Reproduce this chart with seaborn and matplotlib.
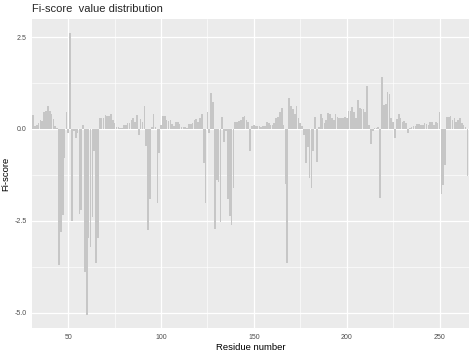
import numpy as np
import pandas as pd
import matplotlib.pyplot as plt
import seaborn as sns
from matplotlib.ticker import MultipleLocator

# residue numbers 31..265 and the Fi-score
residues = list(range(31, 266))

scores_31_66 = [0.38, 0.09, 0.10, 0.15, 0.25, 0.22, 0.45, 0.50, 0.62, 0.50,
                0.40, 0.28, 0.08, 0.02, -3.70, -2.80, -2.35, -0.80, 0.45, -0.10,
                2.62, -2.50, -0.05, -0.25, -0.10, -2.30, -2.20, 0.10, -3.90, -5.05,
                -2.95, -3.20, -2.40, -0.60, -3.65, -2.95]
scores_67_100 = [0.30, 0.30, 0.30, 0.38, 0.35, 0.35, 0.40, 0.24, 0.15, 0.05,
                 0.05, 0.03, 0.03, 0.12, 0.12, 0.15, 0.15, 0.24, 0.30, 0.18,
                 0.38, -0.15, 0.27, 0.20, 0.62, -0.45, -2.75, -1.90, 0.05, 0.40,
                 0.05, -2.00, -0.65, 0.10]
scores_101_140 = [0.36, 0.36, 0.25, 0.22, 0.25, 0.13, 0.07, 0.19, 0.19, 0.13,
                  0.05, 0.05, 0.05, 0.04, 0.13, 0.13, 0.15, 0.24, 0.28, 0.18,
                  0.30, 0.40, -0.93, -2.00, 0.45, -0.10, 0.99, 0.74, -2.73, -1.39,
                  -1.45, -2.52, 0.33, -0.35, -0.05, -1.90, -2.36, -2.60, -1.60, 0.20]
scores_141_180 = [0.20, 0.22, 0.25, 0.33, 0.35, 0.25, 0.20, -0.59, 0.08, 0.10,
                  0.07, 0.08, 0.07, 0.05, 0.07, 0.08, 0.20, 0.15, 0.10, 0.10,
                  0.15, 0.30, 0.33, 0.45, 0.56, 0.10, -1.50, -3.65, 0.83, 0.62,
                  0.55, 0.40, 0.62, 0.30, 0.15, 0.08, -0.15, -0.93, -0.50, -1.34]
scores_181_220 = [-1.60, -0.60, 0.33, -0.90, 0.05, 0.40, 0.30, 0.15, 0.24, 0.43,
                  0.40, 0.30, 0.25, 0.40, 0.33, 0.30, 0.30, 0.30, 0.32, 0.30,
                  0.50, 0.50, 0.60, 0.45, 0.30, 0.79, 0.56, 0.54, 0.53, 0.45,
                  1.17, 0.10, -0.40, -0.05, 0.02, 0.02, 0.05, -1.87, 1.40, 0.65]
scores_221_265 = [0.68, 1.01, 0.95, 0.30, 0.20, -0.25, 0.28, 0.40, 0.30, 0.20,
                  0.22, 0.15, -0.10, 0.03, 0.06, 0.08, 0.08, 0.14, 0.14, 0.10,
                  0.12, 0.15, 0.14, 0.10, 0.18, 0.18, 0.12, 0.20, 0.15, 0.47,
                  -1.77, -1.52, -0.98, 0.33, 0.33, 0.36, 0.25, 0.30, 0.20, 0.25,
                  0.30, 0.15, 0.10, 0.05, -1.28]

scores = (scores_31_66 + scores_67_100 + scores_101_140 + scores_141_180
          + scores_181_220 + scores_221_265)

df = pd.DataFrame({"residue": residues, "fi": scores})

sns.set_theme(style="darkgrid", rc={
    "axes.facecolor": "#EBEBEB",
    "grid.color": "white",
    "figure.facecolor": "white",
})
plt.rcParams['font.family'] = ['Liberation Sans', 'DejaVu Sans']

fig = plt.figure(figsize=(4.74, 3.55), dpi=100)
ax = fig.add_axes([0.068, 0.076, 0.9215, 0.8705])

sns.barplot(data=df, x="residue", y="fi", native_scale=True, color="#C6C6C6",
            saturation=1, width=0.9, ax=ax, errorbar=None,
            linewidth=0, edgecolor="none")

ax.set_xlim(30.6, 265.9)
ax.set_ylim(-5.41, 2.99)

ax.xaxis.set_minor_locator(MultipleLocator(25))
ax.yaxis.set_minor_locator(MultipleLocator(1.25))
ax.set_yticks([-5.0, -2.5, 0.0, 2.5])
ax.set_yticklabels(["-5.0", "-2.5", "0.0", "2.5"])
ax.set_xticks([50, 100, 150, 200, 250])
ax.set_xticklabels(["50", "100", "150", "200", "250"])

ax.grid(which="major", color="white", linewidth=0.9)
ax.grid(which="minor", color="white", linewidth=0.45)
ax.set_axisbelow(True)
ax.tick_params(which="major", length=2.5, width=0.6, color="#333333",
               labelsize=5, labelcolor="#4D4D4D", pad=1.5)
ax.tick_params(which="minor", length=0)
for s in ax.spines.values():
    s.set_visible(False)

ax.set_xlabel("Residue number", fontsize=6.8, color="black", labelpad=2)
ax.set_ylabel("Fi-score", fontsize=6.8, color="black", labelpad=3)
ax.set_title("Fi-score  value distribution", fontsize=8, loc="left", pad=5)

fig.savefig("out.png", dpi=100)
